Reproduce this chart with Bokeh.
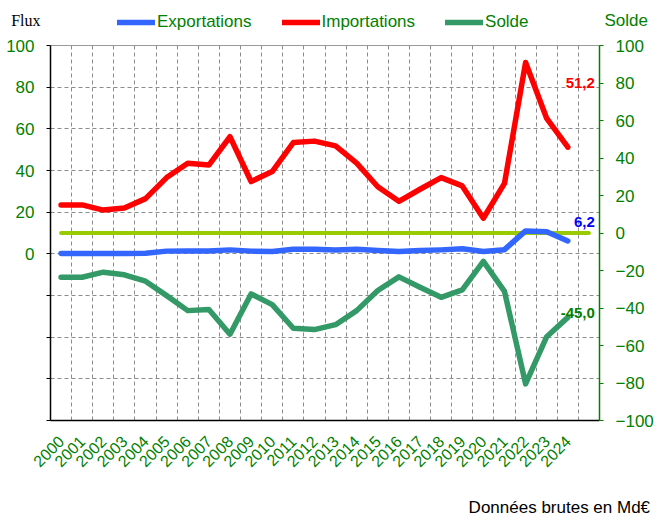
from bokeh.plotting import figure
from bokeh.layouts import column
from bokeh.models import (Range1d, LinearAxis, FixedTicker, Label, Legend, LegendItem, Title)
from bokeh.embed import file_html
from bokeh.resources import INLINE

years = [str(y) for y in range(2000, 2025)]
exportations = [0.2, 0.2, 0.2, 0.2, 0.3, 1.3, 1.4, 1.4, 1.9, 1.3, 1.1, 2.2, 2.2,
                1.8, 2.2, 1.6, 1.1, 1.6, 1.9, 2.4, 1.1, 2.0, 11.0, 10.6, 6.2]
importations = [23.5, 23.5, 21.0, 22.0, 26.5, 36.6, 43.5, 42.6, 56.2, 34.7, 39.5, 53.4, 54.1,
                51.8, 43.5, 32.2, 25.2, 31.0, 36.6, 32.6, 17.1, 33.8, 91.8, 65.0, 51.2]
solde = [-23.6, -23.6, -20.9, -22.3, -25.7, -33.4, -41.4, -40.8, -54.0, -32.5, -38.2, -50.8, -51.5,
         -48.9, -41.4, -30.7, -23.4, -28.9, -34.3, -30.3, -15.1, -31.1, -80.5, -55.3, -45.0]
left_ticks = [-80, -60, -40, -20, 0, 20, 40, 60, 80, 100]
right_ticks = [-100, -80, -60, -40, -20, 0, 20, 40, 60, 80, 100]
series_names = ["Exportations", "Importations", "Solde"]
last_labels = ["6,2", "51,2", "-45,0"]

GREEN_TXT = "#008000"
FONT = "Liberation Sans"
C_EXP, C_IMP, C_SOL, C_ZERO = "#3366FF", "#FF0000", "#339966", "#99CC00"

W = 656
n_slots = len(years) + 1
xpos = [i + 0.5 for i in range(len(years))]
NAN = float("nan")


def plain(fig):
    fig.xaxis.visible = False
    fig.yaxis.visible = False
    fig.grid.visible = False
    fig.outline_line_color = None
    fig.background_fill_color = "white"
    fig.border_fill_color = "white"
    return fig


# ---------- header: axis names and legend ----------
top = plain(figure(width=W, height=36, output_backend="svg", toolbar_location=None,
                   x_range=Range1d(0, 1), y_range=Range1d(0, 1),
                   min_border_left=50, min_border_right=54, min_border_top=0, min_border_bottom=0))

head_y = 16 / 36
lax = LinearAxis(ticker=FixedTicker(ticks=[head_y]), major_label_overrides={head_y: "Flux"})
rax = LinearAxis(ticker=FixedTicker(ticks=[head_y]), major_label_overrides={head_y: "Solde"})
for ax, col, fnt, so in ((lax, "black", "Liberation Serif", 10), (rax, GREEN_TXT, FONT, 5)):
    ax.axis_line_color = None
    ax.major_tick_line_color = None
    ax.minor_tick_line_color = None
    ax.major_tick_out = 0
    ax.major_tick_in = 0
    ax.major_label_standoff = so
    ax.major_label_text_color = col
    ax.major_label_text_font = fnt
    ax.major_label_text_font_size = "16px" if ax is lax else "17px"
top.add_layout(lax, "left")
top.add_layout(rax, "right")

d_exp = top.line([0], [NAN], line_color=C_EXP, line_width=5.5, line_cap="round")
d_imp = top.line([0], [NAN], line_color=C_IMP, line_width=5.5, line_cap="round")
d_sol = top.line([0], [NAN], line_color=C_SOL, line_width=5.5, line_cap="round")
legend = Legend(items=[LegendItem(label=series_names[0], renderers=[d_exp]),
                       LegendItem(label=series_names[1], renderers=[d_imp]),
                       LegendItem(label=series_names[2], renderers=[d_sol])],
                orientation="horizontal", location=(67, 4),
                glyph_width=38, glyph_height=20, label_height=20, label_standoff=2, spacing=30,
                padding=0, margin=0, border_line_color=None, background_fill_alpha=0,
                label_text_color=GREEN_TXT, label_text_font=FONT, label_text_font_size="17px")
top.add_layout(legend, "center")

# ---------- main chart ----------
p = figure(width=W, height=458, output_backend="svg", toolbar_location=None,
           x_range=Range1d(0, n_slots), y_range=Range1d(-80, 100),
           min_border_left=50, min_border_right=54, min_border_top=9, min_border_bottom=74)
p.extra_y_ranges = {"solde": Range1d(-100, 100)}
p.background_fill_color = "white"
p.border_fill_color = "white"
p.outline_line_color = "#999999"
p.outline_line_width = 1

p.xaxis.ticker = FixedTicker(ticks=xpos)
p.xaxis.major_label_overrides = {x: y for x, y in zip(xpos, years)}
p.xaxis.major_label_orientation = 0.785398
p.xaxis.major_label_text_color = GREEN_TXT
p.xaxis.major_label_text_font = FONT
p.xaxis.major_label_text_font_size = "16px"
p.xaxis.major_tick_line_color = None
p.xaxis.minor_tick_line_color = None
p.xaxis.axis_line_color = "black"
p.xaxis.axis_line_width = 1.5
p.xaxis.major_label_standoff = 12

p.yaxis.ticker = FixedTicker(ticks=left_ticks)
p.yaxis.major_label_overrides = {t: (str(t) if t >= 0 else "") for t in left_ticks}
p.yaxis.major_label_text_color = GREEN_TXT
p.yaxis.major_label_text_font = FONT
p.yaxis.major_label_text_font_size = "17px"
p.yaxis.major_tick_out = 4
p.yaxis.major_tick_in = 0
p.yaxis.minor_tick_line_color = None
p.yaxis.axis_line_color = "black"
p.yaxis.axis_line_width = 1.5
p.yaxis.major_tick_line_color = "black"
p.yaxis.major_label_standoff = 12

raxis = LinearAxis(y_range_name="solde", ticker=FixedTicker(ticks=right_ticks))
raxis.major_label_text_color = GREEN_TXT
raxis.major_label_text_font = FONT
raxis.major_label_text_font_size = "17px"
raxis.axis_line_color = GREEN_TXT
raxis.axis_line_width = 1.5
raxis.major_tick_line_color = GREEN_TXT
raxis.major_tick_out = 4
raxis.major_tick_in = 0
raxis.minor_tick_line_color = None
raxis.major_label_standoff = 12
p.add_layout(raxis, "right")

p.xgrid.ticker = FixedTicker(ticks=list(range(1, n_slots)))
p.ygrid.ticker = FixedTicker(ticks=left_ticks)
for g in (p.xgrid, p.ygrid):
    g.grid_line_color = "#8c8c8c"
    g.grid_line_dash = "4 3"
    g.grid_line_width = 1

p.line([xpos[0], xpos[-1] + 1], [0, 0], y_range_name="solde",
       line_color=C_ZERO, line_width=4, line_cap="round")
p.line(xpos, exportations, line_color=C_EXP, line_width=5.5, line_cap="round", line_join="round")
p.line(xpos, importations, line_color=C_IMP, line_width=5.5, line_cap="round", line_join="round")
p.line(xpos, solde, y_range_name="solde", line_color=C_SOL, line_width=5.5,
       line_cap="round", line_join="round")

p.add_layout(Label(x=xpos[-1], y=338, x_units="data", y_units="screen", x_offset=27,
                   text=last_labels[1], text_color="#FF0000", text_font=FONT,
                   text_font_style="bold", text_font_size="15px",
                   text_align="right", text_baseline="middle"))
p.add_layout(Label(x=xpos[-1], y=199, x_units="data", y_units="screen", x_offset=27,
                   text=last_labels[0], text_color="#0000FF", text_font=FONT,
                   text_font_style="bold", text_font_size="15px",
                   text_align="right", text_baseline="middle"))
p.add_layout(Label(x=xpos[-1], y=108, x_units="data", y_units="screen", x_offset=27,
                   text=last_labels[2], text_color=GREEN_TXT, text_font=FONT,
                   text_font_style="bold", text_font_size="15px",
                   text_align="right", text_baseline="middle"))

# ---------- footer ----------
bottom = plain(figure(width=W, height=30, output_backend="svg", toolbar_location=None,
                      x_range=Range1d(0, 1), y_range=Range1d(0, 1),
                      min_border_left=50, min_border_right=54, min_border_top=0,
                      min_border_bottom=0))
bottom.add_layout(Title(text="Données  brutes  en Md€", align="right", offset=-60, standoff=2,
                        text_color="black", text_font=FONT, text_font_size="17px",
                        text_font_style="normal"), "above")

layout = column(top, p, bottom, spacing=0)
open("out.html", "w").write(file_html(layout, INLINE))
